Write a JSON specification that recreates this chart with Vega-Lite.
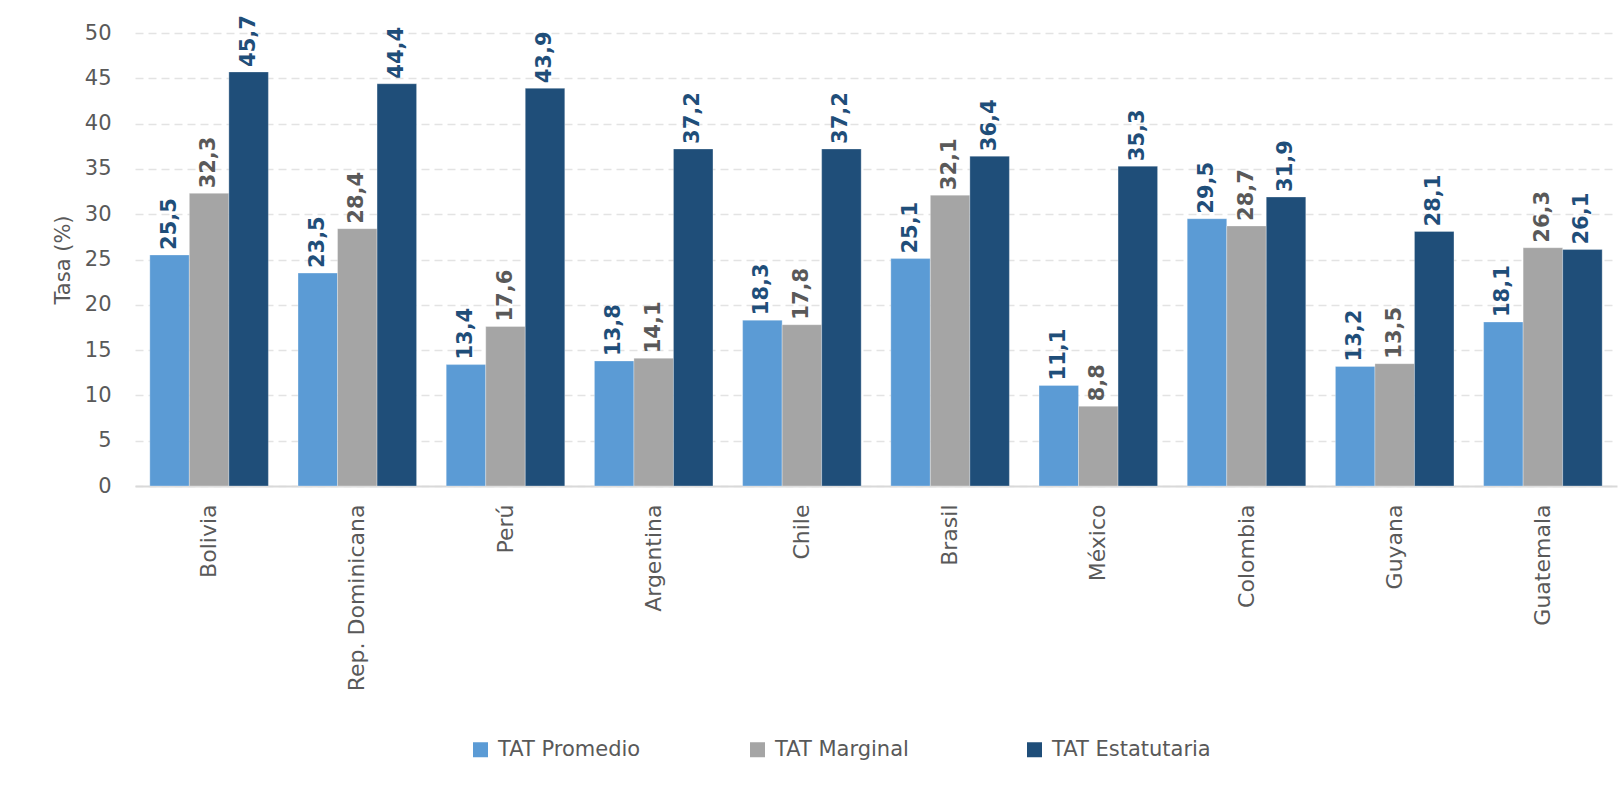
{
  "$schema": "https://vega.github.io/schema/vega-lite/v6.json",
  "autosize": {"type": "none"},
  "width": 1482,
  "height": 453,
  "padding": {"left": 135, "top": 33, "right": 4, "bottom": 299},
  "background": "white",
  "data": {
    "values": [
      {"pais": "Bolivia", "serie": "TAT Promedio", "valor": 25.5},
      {"pais": "Bolivia", "serie": "TAT Marginal", "valor": 32.3},
      {"pais": "Bolivia", "serie": "TAT Estatutaria", "valor": 45.7},
      {"pais": "Rep. Dominicana", "serie": "TAT Promedio", "valor": 23.5},
      {"pais": "Rep. Dominicana", "serie": "TAT Marginal", "valor": 28.4},
      {"pais": "Rep. Dominicana", "serie": "TAT Estatutaria", "valor": 44.4},
      {"pais": "Perú", "serie": "TAT Promedio", "valor": 13.4},
      {"pais": "Perú", "serie": "TAT Marginal", "valor": 17.6},
      {"pais": "Perú", "serie": "TAT Estatutaria", "valor": 43.9},
      {"pais": "Argentina", "serie": "TAT Promedio", "valor": 13.8},
      {"pais": "Argentina", "serie": "TAT Marginal", "valor": 14.1},
      {"pais": "Argentina", "serie": "TAT Estatutaria", "valor": 37.2},
      {"pais": "Chile", "serie": "TAT Promedio", "valor": 18.3},
      {"pais": "Chile", "serie": "TAT Marginal", "valor": 17.8},
      {"pais": "Chile", "serie": "TAT Estatutaria", "valor": 37.2},
      {"pais": "Brasil", "serie": "TAT Promedio", "valor": 25.1},
      {"pais": "Brasil", "serie": "TAT Marginal", "valor": 32.1},
      {"pais": "Brasil", "serie": "TAT Estatutaria", "valor": 36.4},
      {"pais": "México", "serie": "TAT Promedio", "valor": 11.1},
      {"pais": "México", "serie": "TAT Marginal", "valor": 8.8},
      {"pais": "México", "serie": "TAT Estatutaria", "valor": 35.3},
      {"pais": "Colombia", "serie": "TAT Promedio", "valor": 29.5},
      {"pais": "Colombia", "serie": "TAT Marginal", "valor": 28.7},
      {"pais": "Colombia", "serie": "TAT Estatutaria", "valor": 31.9},
      {"pais": "Guyana", "serie": "TAT Promedio", "valor": 13.2},
      {"pais": "Guyana", "serie": "TAT Marginal", "valor": 13.5},
      {"pais": "Guyana", "serie": "TAT Estatutaria", "valor": 28.1},
      {"pais": "Guatemala", "serie": "TAT Promedio", "valor": 18.1},
      {"pais": "Guatemala", "serie": "TAT Marginal", "valor": 26.3},
      {"pais": "Guatemala", "serie": "TAT Estatutaria", "valor": 26.1}
    ]
  },
  "encoding": {
    "x": {
      "field": "pais",
      "type": "nominal",
      "sort": null,
      "scale": {"paddingInner": 0.2, "paddingOuter": 0.1},
      "axis": {
        "title": null,
        "labelAngle": -90,
        "labelAlign": "right",
        "labelBaseline": "middle",
        "labelPadding": 18,
        "labelFontSize": 22,
        "labelLimit": 400,
        "labelColor": "#595959",
        "domainColor": "#D9D9D9",
        "domainWidth": 2,
        "ticks": false
      }
    },
    "xOffset": {
      "field": "serie",
      "type": "nominal",
      "sort": ["TAT Promedio", "TAT Marginal", "TAT Estatutaria"]
    },
    "y": {
      "field": "valor",
      "type": "quantitative",
      "scale": {"domain": [0, 50], "nice": false},
      "axis": {
        "title": "Tasa (%)",
        "titleFontSize": 21,
        "titleFontWeight": "normal",
        "titleColor": "#595959",
        "titlePadding": 11,
        "values": [0, 5, 10, 15, 20, 25, 30, 35, 40, 45, 50],
        "labelFontSize": 21,
        "labelColor": "#595959",
        "labelPadding": 24,
        "domain": false,
        "ticks": false,
        "gridColor": "#E3E3E3",
        "gridDash": [8, 5],
        "gridWidth": 1.5
      }
    }
  },
  "layer": [
    {
      "mark": {"type": "bar", "stroke": "white", "strokeWidth": 0.6, "strokeOpacity": 0.5},
      "encoding": {
        "color": {
          "field": "serie",
          "type": "nominal",
          "scale": {
            "domain": ["TAT Promedio", "TAT Marginal", "TAT Estatutaria"],
            "range": ["#5B9BD5", "#A5A5A5", "#1F4E79"]
          },
          "legend": {
            "title": null,
            "orient": "none",
            "direction": "horizontal",
            "legendX": 335,
            "legendY": 706,
            "gridAlign": "all",
            "symbolType": "square",
            "symbolSize": 225,
            "symbolStrokeWidth": 0,
            "labelFontSize": 21,
            "labelColor": "#595959",
            "columnPadding": 90,
            "labelOffset": 7
          }
        }
      }
    },
    {
      "mark": {
        "type": "text",
        "angle": -90,
        "align": "left",
        "baseline": "middle",
        "dx": 5,
        "fontSize": 21,
        "fontWeight": "bold"
      },
      "encoding": {
        "text": {"field": "valor", "type": "quantitative", "format": ".1f"},
        "color": {
          "condition": {"test": "datum.serie === 'TAT Marginal'", "value": "#595959"},
          "value": "#1F4E79"
        }
      }
    }
  ],
  "config": {
    "font": "DejaVu Sans",
    "view": {"stroke": null},
    "locale": {
      "number": {"decimal": ",", "thousands": ".", "grouping": [3], "currency": ["", " €"]}
    }
  }
}
